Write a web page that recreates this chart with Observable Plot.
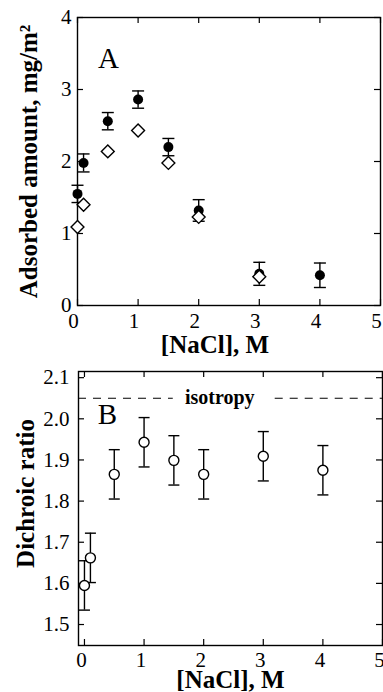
<!DOCTYPE html>
<html>
<head>
<meta charset="utf-8">
<script src="https://cdn.jsdelivr.net/npm/d3@7"></script>
<script src="https://cdn.jsdelivr.net/npm/@observablehq/plot@0.6"></script>
<style>
  body { margin: 0; background: #fff; }
  #chart svg { display: block; }
</style>
</head>
<body>
<div id="chart"></div>
<script>
// NaCl concentration (M) for each measurement
const nacl = [0, 0.1, 0.5, 1, 1.5, 2, 3, 4];

// Panel A: adsorbed amount (mg/m²), filled circles with error bars
const adsorbedFilled = [1.55, 1.98, 2.56, 2.86, 2.20, 1.32, 0.44, 0.42];
const adsorbedFilledErr = [0.12, 0.125, 0.12, 0.12, 0.12, 0.15, 0.16, 0.17];

// Panel A: adsorbed amount (mg/m²), open diamonds
const naclDiamond = [0, 0.1, 0.5, 1, 1.5, 2, 3];
const adsorbedOpen = [1.09, 1.40, 2.14, 2.43, 1.98, 1.23, 0.40];

// Panel B: dichroic ratio with error bars
const dichroicRatio = [1.595, 1.662, 1.865, 1.943, 1.899, 1.865, 1.909, 1.875];
const dichroicErr = [0.06, 0.06, 0.06, 0.06, 0.06, 0.06, 0.06, 0.06];

// Isotropic reference level and its label
const isotropy = 2.05;
const isotropyLabel = "isotropy";
const isotropyLabelX = 2.27;
const isotropySegments = [[-0.1, 1.49], [3.2, 5]];

// Tick values
const xTicksA = [0, 1, 2, 3, 4, 5];
const yTicksA = [0, 1, 2, 3, 4];
const xTicksB = [0, 1, 2, 3, 4, 5];
const yTicksB = [1.5, 1.6, 1.7, 1.8, 1.9, 2.0, 2.1];

// Axis titles and panel letters
const xTitle = "[NaCl], M";
const yTitleA = "Adsorbed amount, mg/m²";
const yTitleB = "Dichroic ratio";
const panelA = "A";
const panelB = "B";

const W = 383;
const FONT = "'Liberation Serif', 'DejaVu Serif', serif";
const TICK_FONT = 21;
const TITLE_FONT = 25;

// horizontal cap for error bars, half-width = r
const capSymbol = {
  draw(ctx, size) {
    const w = Math.sqrt(size / Math.PI);
    ctx.moveTo(-w, 0);
    ctx.lineTo(w, 0);
  }
};

// short ticks pointing into the frame on all four sides
function inwardTicks(xTicks, yTicks, innerW, innerH, len = 6) {
  const o = {stroke: "black", strokeWidth: 1.2};
  return [
    Plot.ruleX(xTicks, {x: d => d, insetTop: innerH - len, ...o}),
    Plot.ruleX(xTicks, {x: d => d, insetBottom: innerH - len, ...o}),
    Plot.ruleY(yTicks, {y: d => d, insetRight: innerW - len, ...o}),
    Plot.ruleY(yTicks, {y: d => d, insetLeft: innerW - len, ...o})
  ];
}

function errorBars(data, r, sw) {
  return [
    Plot.ruleX(data, {x: "x", y1: d => d.y - d.e, y2: d => d.y + d.e, stroke: "black", strokeWidth: sw}),
    Plot.dot(data, {x: "x", y: d => d.y + d.e, symbol: capSymbol, r, stroke: "black", strokeWidth: sw, fill: "none"}),
    Plot.dot(data, {x: "x", y: d => d.y - d.e, symbol: capSymbol, r, stroke: "black", strokeWidth: sw, fill: "none"})
  ];
}

// ---------- Panel A ----------
const filled = nacl.map((x, i) => ({x, y: adsorbedFilled[i], e: adsorbedFilledErr[i]}));
const diamonds = naclDiamond.map((x, i) => ({x, y: adsorbedOpen[i]}));

const mA = {top: 17, right: 3, bottom: 51, left: 77};
const HA = 356;
const innerWA = W - mA.left - mA.right;
const innerHA = HA - mA.top - mA.bottom;

const chartA = Plot.plot({
  width: W,
  height: HA,
  marginTop: mA.top,
  marginRight: mA.right,
  marginBottom: mA.bottom,
  marginLeft: mA.left,
  style: {fontFamily: FONT, fontSize: "20px", background: "white", overflow: "visible"},
  x: {domain: [0, 5]},
  y: {domain: [0, 4]},
  marks: [
    Plot.axisX({ticks: xTicksA, tickSize: 0, tickPadding: 8, label: null, fontSize: TICK_FONT, fontFamily: FONT, dx: -4, tickFormat: d => d}),
    Plot.axisY({ticks: yTicksA, tickSize: 0, tickPadding: 6, label: null, fontSize: TICK_FONT, fontFamily: FONT, tickFormat: d => d}),
    ...inwardTicks(xTicksA, yTicksA, innerWA, innerHA),
    Plot.frame({stroke: "black", strokeWidth: 1.4}),
    ...errorBars(filled, 6, 1.4),
    Plot.dot(filled, {x: "x", y: "y", r: 5, fill: "black"}),
    Plot.dot(diamonds, {x: "x", y: "y", symbol: "diamond2", r: 5.8, fill: "white", stroke: "black", strokeWidth: 1.4}),
    Plot.text([panelA], {frameAnchor: "top-left", text: d => d, dx: 31, dy: 41, textAnchor: "middle", lineAnchor: "middle", fontSize: 29, fontFamily: FONT}),
    Plot.text([yTitleA], {frameAnchor: "left", text: d => d, rotate: -90, dx: -49, textAnchor: "middle", lineAnchor: "middle", fontSize: TITLE_FONT, fontWeight: "bold", fontFamily: FONT}),
    Plot.text([xTitle], {frameAnchor: "bottom", text: d => d, dx: -14, dy: 39, textAnchor: "middle", lineAnchor: "middle", fontSize: TITLE_FONT, fontWeight: "bold", fontFamily: FONT})
  ]
});

// ---------- Panel B ----------
const ratios = nacl.map((x, i) => ({x, y: dichroicRatio[i], e: dichroicErr[i]}));

const mB = {top: 15, right: 1, bottom: 47, left: 78};
const HB = 336;
const innerWB = W - mB.left - mB.right;
const innerHB = HB - mB.top - mB.bottom;

const chartB = Plot.plot({
  width: W,
  height: HB,
  marginTop: mB.top,
  marginRight: mB.right,
  marginBottom: mB.bottom,
  marginLeft: mB.left,
  style: {fontFamily: FONT, fontSize: "20px", background: "white", overflow: "visible"},
  x: {domain: [-0.1, 5]},
  y: {domain: [1.449, 2.115]},
  marks: [
    Plot.axisX({ticks: xTicksB, tickSize: 0, tickPadding: 7, label: null, fontSize: TICK_FONT, fontFamily: FONT, dx: -3, tickFormat: d => d}),
    Plot.axisY({ticks: yTicksB, tickSize: 0, tickPadding: 9, label: null, fontSize: TICK_FONT, fontFamily: FONT, tickFormat: d3.format(".1f")}),
    ...inwardTicks(xTicksB, yTicksB, innerWB, innerHB),
    Plot.frame({stroke: "black", strokeWidth: 1.4}),
    Plot.ruleY(isotropySegments, {y: () => isotropy, x1: d => d[0], x2: d => d[1], stroke: "black", strokeWidth: 1.2, strokeDasharray: "8,7"}),
    Plot.text([isotropyLabel], {x: isotropyLabelX, y: isotropy, text: d => d, dy: -1, textAnchor: "middle", lineAnchor: "middle", fontSize: 20, fontWeight: "bold", fontFamily: FONT}),
    ...errorBars(ratios, 5.5, 1.4),
    Plot.dot(ratios, {x: "x", y: "y", r: 5, fill: "white", stroke: "black", strokeWidth: 1.4}),
    Plot.text([panelB], {frameAnchor: "top-left", text: d => d, dx: 29, dy: 43, textAnchor: "middle", lineAnchor: "middle", fontSize: 29, fontFamily: FONT}),
    Plot.text([yTitleB], {frameAnchor: "left", text: d => d, rotate: -90, dx: -53, dy: -15, textAnchor: "middle", lineAnchor: "middle", fontSize: TITLE_FONT, fontWeight: "bold", fontFamily: FONT}),
    Plot.text([xTitle], {frameAnchor: "bottom", text: d => d, dy: 34, textAnchor: "middle", lineAnchor: "middle", fontSize: TITLE_FONT, fontWeight: "bold", fontFamily: FONT})
  ]
});

const root = document.getElementById("chart");
root.append(chartA, chartB);
</script>
</body>
</html>
